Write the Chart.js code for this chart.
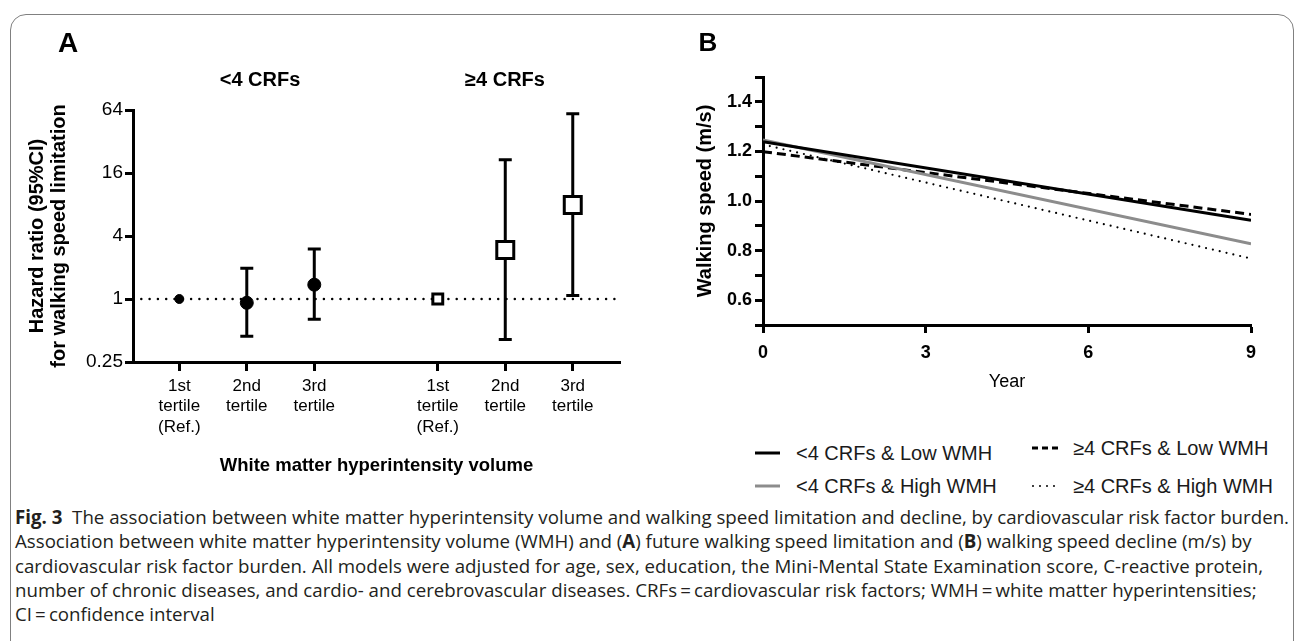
<!DOCTYPE html>
<html>
<head>
<meta charset="utf-8">
<script src="https://cdn.jsdelivr.net/npm/chart.js@4.4.1/dist/chart.umd.min.js"></script>
<style>
  html, body { margin: 0; padding: 0; background: #fff; }
  body { width: 1295px; height: 641px; position: relative; overflow: hidden; font-family: "Liberation Sans", Arial, sans-serif; color: #000; }
  .frame { position: absolute; left: 10px; top: 14px; width: 1284px; height: 700px; border: 1.5px solid #808080; border-radius: 16px; box-sizing: border-box; }
  canvas { position: absolute; }
  .lbl { position: absolute; white-space: nowrap; transform: translate(-50%, -50%); line-height: 1; }
  .left { transform: translate(0, -50%); }
  .panel { font-weight: bold; }
  .legend { font-size: 20px; color: #1a1a1a; }
  .legend svg { position: absolute; }
  .caption { position: absolute; left: 15px; top: 505px; font-family: "Open Sans", "Noto Sans", sans-serif; font-size: 18.7px; line-height: 24.3px; color: #231f20; white-space: nowrap; }
  .caption b { font-weight: 700; }
</style>
</head>
<body>
<div class="frame"></div>

<canvas id="hrChart" width="650" height="500" style="left:0;top:0"></canvas>
<canvas id="speedChart" width="645" height="420" style="left:650px;top:0"></canvas>

<div class="lbl panel" style="left:68px;top:43px;font-size:28px">A</div>
<div class="lbl panel" style="left:708px;top:42px;font-size:26px">B</div>
<div class="lbl panel" id="grp0" style="left:260px;top:79px;font-size:20px"></div>
<div class="lbl panel" id="grp1" style="left:505px;top:79px;font-size:20px"></div>

<div class="legend">
  <svg style="left:752px;top:448px" width="32" height="10"><line x1="3" y1="5" x2="28" y2="5" stroke="#000" stroke-width="3"/></svg>
  <div class="lbl left" id="leg0" style="left:796px;top:453px"></div>
  <svg style="left:752px;top:481px" width="32" height="10"><line x1="3" y1="5" x2="28" y2="5" stroke="#8c8c8c" stroke-width="3"/></svg>
  <div class="lbl left" id="leg1" style="left:796px;top:486px"></div>
  <svg style="left:1029px;top:443px" width="34" height="10"><line x1="3" y1="5" x2="30" y2="5" stroke="#000" stroke-width="3" stroke-dasharray="6,4"/></svg>
  <div class="lbl left" id="leg2" style="left:1073px;top:448px"></div>
  <svg style="left:1029px;top:481px" width="34" height="10"><line x1="4" y1="5" x2="30" y2="5" stroke="#000" stroke-width="2" stroke-linecap="round" stroke-dasharray="0,7"/></svg>
  <div class="lbl left" id="leg3" style="left:1073px;top:486px"></div>
</div>

<div class="caption">
<b>Fig. 3</b>&nbsp;&nbsp;The association between white matter hyperintensity volume and walking speed limitation and decline, by cardiovascular risk factor burden.<br>
Association between white matter hyperintensity volume (WMH) and (<b>A</b>) future walking speed limitation and (<b>B</b>) walking speed decline (m/s) by<br>
cardiovascular risk factor burden. All models were adjusted for age, sex, education, the Mini-Mental State Examination score, C-reactive protein,<br>
number of chronic diseases, and cardio- and cerebrovascular diseases. CRFs&thinsp;=&thinsp;cardiovascular risk factors; WMH&thinsp;=&thinsp;white matter hyperintensities;<br>
CI&thinsp;=&thinsp;confidence interval
</div>

<script>
// ---- panel A data: hazard ratios by WMH tertile ----
const groupLabels = ['<4 CRFs', '\u22654 CRFs'];
const tertileLabels = [['1st', 'tertile', '(Ref.)'], ['2nd', 'tertile'], ['3rd', 'tertile']];
const hrLowCrf = [1, 0.92, 1.37];
const ciLowCrfLower = [null, 0.44, 0.64];
const ciLowCrfUpper = [null, 1.97, 3.0];
const hrHighCrf = [1, 2.94, 7.9];
const ciHighCrfLower = [null, 0.41, 1.08];
const ciHighCrfUpper = [null, 21.4, 59];
const hrTicks = [0.25, 1, 4, 16, 64];

// ---- panel B data: walking speed over follow-up ----
const years = [0, 9];
const yearTicks = [0, 3, 6, 9];
const speedLowCrfLowWmh = [1.239, 0.922];
const speedLowCrfHighWmh = [1.246, 0.827];
const speedHighCrfLowWmh = [1.199, 0.946];
const speedHighCrfHighWmh = [1.228, 0.768];
const speedTicks = [0.5, 0.6, 0.7, 0.8, 0.9, 1.0, 1.1, 1.2, 1.3, 1.4, 1.5];
const speedTickLabels = ['', '0.6', '', '0.8', '', '1.0', '', '1.2', '', '1.4', ''];
const seriesLabels = ['<4 CRFs & Low WMH', '<4 CRFs & High WMH', '\u22654 CRFs & Low WMH', '\u22654 CRFs & High WMH'];

Chart.defaults.font.family = '"Liberation Sans", Arial, sans-serif';
Chart.defaults.color = '#000';
Chart.defaults.devicePixelRatio = 1;

// text labels
groupLabels.forEach((t, i) => { document.getElementById('grp' + i).textContent = t; });
seriesLabels.forEach((t, i) => { document.getElementById('leg' + i).textContent = t; });

// x position of a tertile inside its group (second group starts after a gap)
const GROUP_STEP = 3.83;
function xPos(group, i) {
    return 1 + group * GROUP_STEP + i;
}
const X_MIN = 0.314;
const X_MAX = 7.53;
const hrXTicks = [];
const hrXLabels = [];
groupLabels.forEach((g, gi) => {
    tertileLabels.forEach((t, i) => {
        hrXTicks.push(xPos(gi, i));
        hrXLabels.push(t);
    });
});

function toPoints(group, values) {
    return values.map((v, i) => ({ x: xPos(group, i), y: v }));
}

const errorBars = {
    id: 'errorBars',
    beforeDatasetsDraw(chart) {
        const { ctx, scales: { x, y } } = chart;
        ctx.save();
        ctx.strokeStyle = '#000';
        ctx.lineWidth = 3;
        chart.data.datasets.forEach(ds => {
            if (!ds.ciLower) return;
            ds.data.forEach((pt, i) => {
                const lo = ds.ciLower[i];
                const hi = ds.ciUpper[i];
                if (lo == null || hi == null) return;
                const px = x.getPixelForValue(pt.x);
                const top = y.getPixelForValue(hi);
                const bot = y.getPixelForValue(lo);
                ctx.beginPath();
                ctx.moveTo(px, top);
                ctx.lineTo(px, bot);
                ctx.moveTo(px - 6.5, top);
                ctx.lineTo(px + 6.5, top);
                ctx.moveTo(px - 6.5, bot);
                ctx.lineTo(px + 6.5, bot);
                ctx.stroke();
            });
        });
        ctx.restore();
    }
};

const axisGrid = {
    display: true,
    drawOnChartArea: false,
    drawTicks: true,
    tickWidth: 3,
    tickColor: '#000',
    color: '#000'
};
const axisBorder = { display: true, color: '#000', width: 3 };

new Chart(document.getElementById('hrChart'), {
    type: 'scatter',
    data: {
        datasets: [
            {
                label: 'reference',
                data: [{ x: X_MIN, y: 1 }, { x: X_MAX, y: 1 }],
                showLine: true,
                borderColor: '#000',
                borderWidth: 2.5,
                borderDash: [0, 8.3],
                borderCapStyle: 'round',
                pointRadius: 0,
                order: 3
            },
            {
                label: groupLabels[0],
                data: toPoints(0, hrLowCrf),
                ciLower: ciLowCrfLower,
                ciUpper: ciLowCrfUpper,
                pointStyle: 'circle',
                pointRadius: [4.5, 6.5, 6.5],
                backgroundColor: '#000',
                borderColor: '#000',
                borderWidth: 1,
                order: 1
            },
            {
                label: groupLabels[1],
                data: toPoints(1, hrHighCrf),
                ciLower: ciHighCrfLower,
                ciUpper: ciHighCrfUpper,
                pointStyle: 'rect',
                pointRadius: [7, 12, 12],
                backgroundColor: '#fff',
                borderColor: '#000',
                borderWidth: 3,
                order: 0
            }
        ]
    },
    options: {
        responsive: false,
        animation: false,
        events: [],
        layout: { autoPadding: false, padding: { left: 0, right: 30, top: 110, bottom: 0 } },
        plugins: { legend: { display: false }, tooltip: { enabled: false } },
        scales: {
            x: {
                type: 'linear',
                min: X_MIN,
                max: X_MAX,
                afterBuildTicks: s => { s.ticks = hrXTicks.map(v => ({ value: v })); },
                afterFit: s => { s.height = 138; },
                grid: { ...axisGrid, tickLength: 9 },
                border: axisBorder,
                ticks: {
                    autoSkip: false,
                    maxRotation: 0,
                    padding: 5,
                    font: { size: 17, lineHeight: 1.2 },
                    callback: (v, i) => hrXLabels[i]
                },
                title: {
                    display: true,
                    text: 'White matter hyperintensity volume',
                    font: { size: 18.5, weight: 'bold', lineHeight: 1.2 },
                    padding: { top: 0, bottom: 23 }
                }
            },
            y: {
                type: 'logarithmic',
                min: 0.25,
                max: 64,
                afterBuildTicks: s => { s.ticks = hrTicks.map(v => ({ value: v })); },
                afterFit: s => { s.width = 133; },
                grid: { ...axisGrid, tickLength: 8 },
                border: axisBorder,
                ticks: {
                    autoSkip: false,
                    padding: 2,
                    font: { size: 19 },
                    callback: v => String(v)
                },
                title: {
                    display: true,
                    text: ['Hazard ratio (95%CI)', 'for walking speed limitation'],
                    font: { size: 20, weight: 'bold', lineHeight: 1.1 },
                    padding: { top: 26, bottom: 0 }
                }
            }
        }
    },
    plugins: [errorBars]
});

function speedPoints(values) {
    return values.map((v, i) => ({ x: years[i], y: v }));
}

new Chart(document.getElementById('speedChart'), {
    type: 'scatter',
    data: {
        datasets: [
            {
                label: seriesLabels[0],
                data: speedPoints(speedLowCrfLowWmh),
                borderColor: '#000',
                borderWidth: 3
            },
            {
                label: seriesLabels[1],
                data: speedPoints(speedLowCrfHighWmh),
                borderColor: '#8c8c8c',
                borderWidth: 3
            },
            {
                label: seriesLabels[2],
                data: speedPoints(speedHighCrfLowWmh),
                borderColor: '#000',
                borderWidth: 3,
                borderDash: [9, 5]
            },
            {
                label: seriesLabels[3],
                data: speedPoints(speedHighCrfHighWmh),
                borderColor: '#000',
                borderWidth: 2.2,
                borderDash: [0, 7],
                borderCapStyle: 'round'
            }
        ].map(ds => ({ ...ds, showLine: true, pointRadius: 0, backgroundColor: ds.borderColor }))
    },
    options: {
        responsive: false,
        animation: false,
        events: [],
        layout: { autoPadding: false, padding: { left: 0, right: 44, top: 77, bottom: 0 } },
        plugins: { legend: { display: false }, tooltip: { enabled: false } },
        scales: {
            x: {
                type: 'linear',
                min: 0,
                max: 9,
                afterBuildTicks: s => { s.ticks = yearTicks.map(v => ({ value: v })); },
                afterFit: s => { s.height = 95; },
                grid: { ...axisGrid, tickLength: 8 },
                border: axisBorder,
                ticks: {
                    autoSkip: false,
                    maxRotation: 0,
                    padding: 9,
                    font: { size: 18, weight: 'bold' },
                    callback: v => String(v)
                },
                title: {
                    display: true,
                    text: 'Year',
                    font: { size: 18, lineHeight: 1.2 },
                    padding: { top: 0, bottom: 27 }
                }
            },
            y: {
                type: 'linear',
                min: 0.5,
                max: 1.5,
                afterBuildTicks: s => { s.ticks = speedTicks.map(v => ({ value: v })); },
                afterFit: s => { s.width = 113; },
                grid: { ...axisGrid, tickLength: 8 },
                border: axisBorder,
                ticks: {
                    autoSkip: false,
                    padding: 3,
                    font: { size: 18, weight: 'bold' },
                    callback: (v, i) => speedTickLabels[i]
                },
                title: {
                    display: true,
                    text: 'Walking speed (m/s)',
                    font: { size: 20, weight: 'bold', lineHeight: 1.2 },
                    padding: { top: 43, bottom: 0 }
                }
            }
        }
    }
});
</script>
</body>
</html>
